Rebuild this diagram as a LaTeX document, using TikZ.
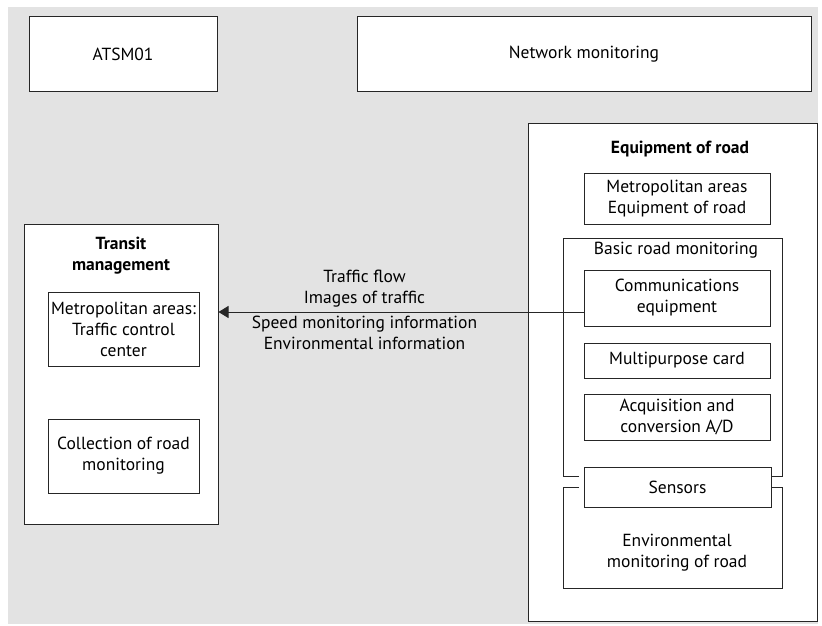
\documentclass[tikz,border=0pt]{standalone}
\usepackage{fontspec}
\setmainfont{PT Sans}
\usepackage{tikz}
\usetikzlibrary{arrows.meta}
\colorlet{panel}{black!11}
\colorlet{edge}{black!85}
\newcommand\txt{\fontsize{17.5}{21}\selectfont}
\tikzstyle{box}=[draw=edge,line width=1pt,fill=white,align=center,font=\txt,inner sep=0pt]
\tikzstyle{lbl}=[align=center,font=\txt,inner sep=0pt]
\tikzstyle{ttl}=[lbl,font=\txt\bfseries]
\tikzstyle{part}=[draw=edge,line width=1pt]
\tikzstyle{flow}=[part,{Triangle[length=10pt,width=12pt]}-]
\begin{document}
\begin{tikzpicture}[x=1pt,y=-1pt]
	\fill[white] (0,0) rectangle (822,626);
	\fill[panel] (8,7) rectangle (818,624);
	% top row
	\node[box,minimum width=188,minimum height=74] (atsm) at (123,54) {ATSM01};
	\node[box,minimum width=454,minimum height=74] (netmon) at (584,54) {Network monitoring};
	% transit management
	\node[box,minimum width=194,minimum height=300] (transit) at (121,374) {};
	\node[ttl] (transittl) at (121,256) {Transit\\management};
	\node[box,minimum width=151,minimum height=74] (tcc) at (123.5,329) {Metropolitan areas:\\Traffic control\\center};
	\node[box,minimum width=151,minimum height=74] (collect) at (123.5,456) {Collection of road\\monitoring};
	% equipment of road
	\node[box,minimum width=289,minimum height=498] (road) at (672.5,372) {};
	\node[ttl] (roadttl) at (680,149) {Equipment of road};
	\node[box,minimum width=186,minimum height=51] (metro) at (677,198.5) {Metropolitan areas\\Equipment of road};
	\draw[part] (579,476) -- (563,476) -- (563,238) -- (782,238) -- (782,476) -- (772,476);
	\node[lbl] (basic) at (676,250) {Basic road monitoring};
	\node[box,minimum width=186,minimum height=56] (comms) at (677,298) {Communications\\equipment};
	\node[box,minimum width=186,minimum height=35] (card) at (677,360.5) {Multipurpose card};
	\node[box,minimum width=186,minimum height=46] (acq) at (677,417) {Acquisition and\\conversion A/D};
	\draw[part] (579,487) -- (563,487) -- (563,588) -- (782,588) -- (782,487) -- (771,487);
	\node[box,minimum width=187,minimum height=40] (sensors) at (677.5,487) {Sensors};
	\node[lbl] (envmon) at (677,553) {Environmental\\monitoring of road};
	% data flow
	\coordinate (src) at ([yshift=-14pt]comms.west);
	\draw[flow] (src -| transit.east) -- (src)
		node[pos=0.4,above=4pt,lbl] (flowup) {Traffic flow\\Images of traffic}
		node[pos=0.4,below=4pt,lbl] (flowdn) {Speed monitoring information\\Environmental information};
\end{tikzpicture}
\end{document}
